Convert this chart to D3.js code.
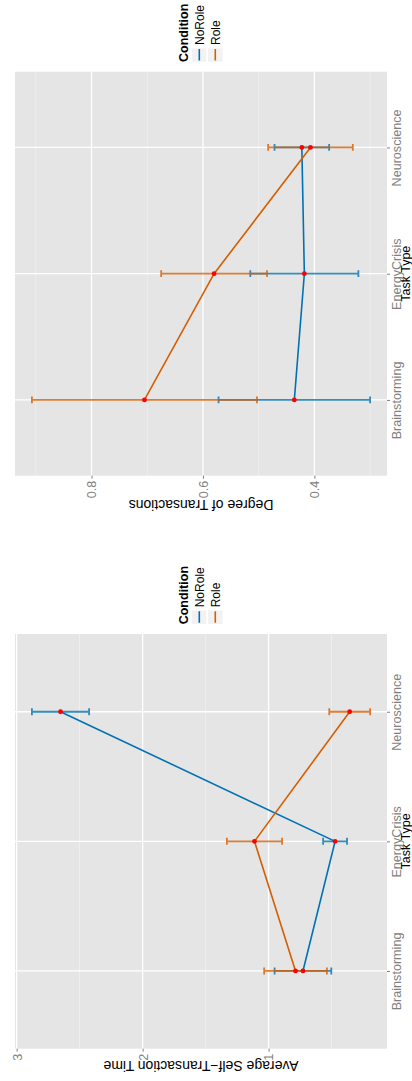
<!DOCTYPE html>
<html>
<head>
<meta charset="utf-8">
<script src="https://cdn.jsdelivr.net/npm/d3@7"></script>
<style>
  html, body { margin: 0; padding: 0; background: #ffffff; }
  svg { display: block; font-family: "Liberation Sans", Arial, Helvetica, sans-serif; }
</style>
</head>
<body>
<svg id="chart" width="412" height="1081"></svg>
<script>
// Task types and conditions
const categories = ["Brainstorming", "EnergyCrisis", "Neuroscience"];
const conditions = ["NoRole", "Role"];

// Degree of transactions: means and standard errors per task type
const degreeNoRole   = [0.436, 0.418, 0.4225];
const degreeNoRoleSE = [0.136, 0.097, 0.049];
const degreeRole     = [0.705, 0.580, 0.407];
const degreeRoleSE   = [0.202, 0.095, 0.076];
const degreeTicks    = [0.4, 0.6, 0.8];
const degreeMinor    = [0.3, 0.5, 0.7, 0.9];

// Average self-transaction time: means and standard errors per task type
const selfTimeNoRole   = [0.727, 0.472, 2.652];
const selfTimeNoRoleSE = [0.225, 0.095, 0.227];
const selfTimeRole     = [0.786, 1.112, 0.356];
const selfTimeRoleSE   = [0.249, 0.219, 0.162];
const selfTimeTicks    = [1, 2, 3];
const selfTimeMinor    = [0.5, 1.5, 2.5];

const colors = { NoRole: "#0072B2", Role: "#D55E00" };
const svg = d3.select("#chart");

function drawPanel(opt) {
  const { top, bottom, left, right, series, ticks, minor, valueTitle } = opt;
  const g = svg.append("g");

  // value range of all error bars, expanded by 5% on each side
  const lows = [], highs = [];
  series.forEach(s => s.mean.forEach((m, i) => { lows.push(m - s.se[i]); highs.push(m + s.se[i]); }));
  const lo = d3.min(lows), hi = d3.max(highs), pad = (hi - lo) * 0.05;

  // values run right-to-left, task types bottom-to-top
  const x = d3.scaleLinear().domain([lo - pad, hi + pad]).range([right, left]);
  const y = d3.scalePoint().domain(categories).range([bottom, top]).padding(0.6);
  const step = y.step();

  // panel background and grid
  g.append("rect").attr("x", left).attr("y", top)
    .attr("width", right - left).attr("height", bottom - top).attr("fill", "#E5E5E5");
  g.selectAll(".minor").data(minor).join("line")
    .attr("x1", d => x(d)).attr("x2", d => x(d)).attr("y1", top).attr("y2", bottom)
    .attr("stroke", "#F2F2F2").attr("stroke-width", 0.7);
  g.selectAll(".major").data(ticks).join("line")
    .attr("x1", d => x(d)).attr("x2", d => x(d)).attr("y1", top).attr("y2", bottom)
    .attr("stroke", "#FFFFFF").attr("stroke-width", 1.3);
  g.selectAll(".catgrid").data(categories).join("line")
    .attr("x1", left).attr("x2", right).attr("y1", d => y(d)).attr("y2", d => y(d))
    .attr("stroke", "#FFFFFF").attr("stroke-width", 1.3);

  // value axis below the panel
  const xAxis = g.append("g").attr("transform", `translate(0,${bottom})`)
    .call(d3.axisBottom(x).tickValues(ticks).tickSize(3).tickPadding(2).tickFormat(d3.format("")));
  xAxis.select(".domain").remove();
  xAxis.selectAll(".tick line").attr("stroke", "#7F7F7F");
  xAxis.selectAll(".tick text")
    .attr("transform", "rotate(-90)").attr("x", -5).attr("y", 0).attr("dy", "0.35em")
    .attr("text-anchor", "end").attr("fill", "#7F7F7F")
    .style("font-size", "12.6px").style("font-family", "inherit");

  // task type axis on the right of the panel
  const yAxis = g.append("g").attr("transform", `translate(${right},0)`)
    .call(d3.axisRight(y).tickSize(3).tickPadding(2));
  yAxis.select(".domain").remove();
  yAxis.selectAll(".tick line").attr("stroke", "#7F7F7F");
  yAxis.selectAll(".tick text")
    .attr("transform", "translate(5,0) rotate(-90)").attr("x", 0).attr("y", 0).attr("dy", "0.72em")
    .attr("text-anchor", "middle").attr("fill", "#7F7F7F")
    .style("font-size", "12.6px").style("font-family", "inherit");

  // axis titles
  const maxLabel = d3.max(ticks, t => String(t).length);
  g.append("text")
    .attr("transform", `translate(${(left + right) / 2},${bottom + 6 + maxLabel * 6.1}) rotate(180)`)
    .attr("text-anchor", "middle").attr("fill", "#000")
    .style("font-size", "14px").text(valueTitle);
  g.append("text")
    .attr("transform", `translate(${right + 22.5},${(top + bottom) / 2}) rotate(-90)`)
    .attr("text-anchor", "middle").attr("fill", "#000")
    .style("font-size", "12.5px").text("Task Type");

  // error bars
  const capHalf = step * 0.027;
  series.forEach(s => {
    const eb = g.append("g").attr("stroke", colors[s.name]).attr("stroke-width", 1.8)
      .attr("stroke-opacity", 0.8).attr("fill", "none");
    categories.forEach((c, i) => {
      const x1 = x(s.mean[i] - s.se[i]), x2 = x(s.mean[i] + s.se[i]), yc = y(c);
      eb.append("path").attr("d",
        `M${x1},${yc - capHalf}V${yc + capHalf}M${x1},${yc}H${x2}M${x2},${yc - capHalf}V${yc + capHalf}`);
    });
  });

  // mean lines
  series.forEach(s => {
    const line = d3.line().x((d, i) => x(d)).y((d, i) => y(categories[i]));
    g.append("path").datum(s.mean).attr("d", line)
      .attr("fill", "none").attr("stroke", colors[s.name]).attr("stroke-width", 1.6);
  });

  // mean points
  series.forEach(s => {
    g.selectAll(null).data(s.mean).join("circle")
      .attr("cx", d => x(d)).attr("cy", (d, i) => y(categories[i]))
      .attr("r", 2.4).attr("fill", "#FF0000");
  });

  // legend above the panel
  const lg = g.append("g");
  const keyBottom = top - 9.7, keySize = 16;
  lg.append("text")
    .attr("transform", `translate(183.3,${keyBottom}) rotate(-90)`)
    .attr("dy", "0.35em").attr("text-anchor", "start")
    .style("font-size", "12.5px").style("font-weight", "bold").text("Condition");
  conditions.forEach((name, i) => {
    const cx = 199.3 + i * 16;
    lg.append("rect").attr("x", cx - keySize / 2).attr("y", keyBottom - 14.5)
      .attr("width", keySize).attr("height", 15).attr("fill", "#F2F2F2")
      .attr("stroke", "#FFFFFF").attr("stroke-width", 1.5);
    lg.append("line").attr("x1", cx).attr("x2", cx)
      .attr("y1", keyBottom - 13).attr("y2", keyBottom - 1.5)
      .attr("stroke", colors[name]).attr("stroke-width", 1.6);
    lg.append("text")
      .attr("transform", `translate(${cx},${keyBottom - 17}) rotate(-90)`)
      .attr("dy", "0.35em").attr("text-anchor", "start")
      .style("font-size", "12px").text(name);
  });
}

drawPanel({
  top: 71.7, bottom: 475.7, left: 15, right: 387,
  series: [
    { name: "NoRole", mean: degreeNoRole, se: degreeNoRoleSE },
    { name: "Role", mean: degreeRole, se: degreeRoleSE }
  ],
  ticks: degreeTicks, minor: degreeMinor,
  valueTitle: "Degree of Transactions"
});

drawPanel({
  top: 634, bottom: 1048.7, left: 15, right: 387,
  series: [
    { name: "NoRole", mean: selfTimeNoRole, se: selfTimeNoRoleSE },
    { name: "Role", mean: selfTimeRole, se: selfTimeRoleSE }
  ],
  ticks: selfTimeTicks, minor: selfTimeMinor,
  valueTitle: "Average Self\u2212Transaction Time"
});
</script>
</body>
</html>
